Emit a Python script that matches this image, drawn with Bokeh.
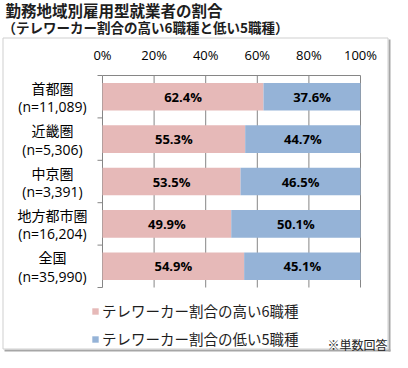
from bokeh.plotting import figure
from bokeh.models import ColumnDataSource, Range1d, Legend, LegendItem
from bokeh.core.properties import value
from bokeh.embed import file_html
from bokeh.resources import INLINE

# ---- data ----
title_line1 = "勤務地域別雇用型就業者の割合"
title_line2 = "（テレワーカー割合の高い6職種と低い5職種）"
regions = ["首都圏", "近畿圏", "中京圏", "地方都市圏", "全国"]
sample_sizes = ["11,089", "5,306", "3,391", "16,204", "35,990"]
high_share = [62.4, 55.3, 53.5, 49.9, 54.9]
low_share = [37.6, 44.7, 46.5, 50.1, 45.1]
series_names = ["テレワーカー割合の高い6職種", "テレワーカー割合の低い5職種"]
x_ticks = [0, 20, 40, 60, 80, 100]
x_tick_labels = ["0%", "20%", "40%", "60%", "80%", "100%"]
note_text = "※単数回答"

# ---- styling / layout constants ----
PINK = "#E6B9B8"
BLUE = "#95B3D7"
GRID = "#868686"
CJK = "'Noto Sans CJK JP'"
LATIN = "'Open Sans'"
W, H = 392, 352
X0_PX, PX_PER_PCT = 102, 2.58      # where 0 % sits, pixels per percent
Y0_PX, ROW_PX = 75, 42.4           # top of the first row, pixels per row


def px_x(px):
    return (px - X0_PX) / PX_PER_PCT


def px_y(px):
    return (px - Y0_PX) / ROW_PX - 0.5


def dy(px):
    return px / ROW_PX


n_rows = len(regions)
rows = list(range(n_rows))
src = ColumnDataSource(dict(
    row=rows,
    name=regions,
    nlab=[f"(n={n})" for n in sample_sizes],
    high=high_share,
    low=low_share,
    high_mid=[h / 2 for h in high_share],
    low_mid=[h + l / 2 for h, l in zip(high_share, low_share)],
    high_txt=[f"{v:.1f}%" for v in high_share],
    low_txt=[f"{v:.1f}%" for v in low_share],
    name_y=[r - dy(9) for r in rows],
    nlab_y=[r + dy(10) for r in rows],
))

p = figure(width=W, height=H, title=None,
           x_range=Range1d(px_x(0), px_x(W)), y_range=Range1d(px_y(H), px_y(0)),
           x_axis_location=None, y_axis_location=None,
           output_backend="svg", toolbar_location=None,
           min_border=0, min_border_left=0, min_border_right=0,
           min_border_top=0, min_border_bottom=0)
p.outline_line_color = None
p.xgrid.visible = False
p.ygrid.visible = False

# frame box with shadow
p.quad(left=[px_x(388)], right=[px_x(390)], top=[px_y(39)], bottom=[px_y(351)],
       fill_color="#a6a6a6", line_color=None)
p.quad(left=[px_x(4)], right=[px_x(390)], top=[px_y(349)], bottom=[px_y(351)],
       fill_color="#a6a6a6", line_color=None)
p.quad(left=[px_x(2.5)], right=[px_x(387.5)], top=[px_y(37.5)], bottom=[px_y(348.5)],
       fill_color=None, line_color="#cfcfcf", line_width=1)

# titles
p.text(x=[px_x(5)], y=[px_y(9)], text=[title_line1], text_font=value(CJK),
       text_font_style="bold", text_font_size="15.5px", text_baseline="middle",
       text_color="#1e1e1e")
p.text(x=[px_x(2)], y=[px_y(26)], text=[title_line2], text_font=value(CJK),
       text_font_style="bold", text_font_size="13.5px", text_baseline="middle",
       text_color="#1e1e1e")

top_edge, bottom_edge = -0.5, n_rows - 0.5

# vertical grid lines (0 % doubles as the left axis line)
p.segment(x0=x_ticks, x1=x_ticks, y0=[top_edge] * len(x_ticks),
          y1=[bottom_edge] * len(x_ticks), line_color=GRID, line_width=1)
# top axis line
p.segment(x0=[0], x1=[100], y0=[top_edge], y1=[top_edge], line_color=GRID, line_width=1)
# left axis ticks on the row boundaries
bounds = [r - 0.5 for r in range(n_rows + 1)]
p.segment(x0=[0] * len(bounds), x1=[px_x(X0_PX - 5)] * len(bounds), y0=bounds, y1=bounds,
          line_color=GRID, line_width=1)
# x tick labels
p.text(x=x_ticks, y=[px_y(54)] * len(x_ticks), text=x_tick_labels, text_font=value(LATIN),
       text_font_size="13px", text_align="center", text_baseline="middle",
       text_color="#000000")

# bars
rs = p.hbar_stack(["high", "low"], y="row", height=0.65, color=[PINK, BLUE],
                  line_color=None, source=src)

# bar labels
for col, txt in (("high_mid", "high_txt"), ("low_mid", "low_txt")):
    p.text(x=col, y="row", text=txt, source=src, text_align="center",
           text_baseline="middle", text_font=value(LATIN), text_font_style="bold",
           text_font_size="13px", text_color="#000000")

# category labels (two lines)
label_x = px_x(52)
p.text(x=label_x, y="name_y", text="name", source=src, text_align="center",
       text_baseline="middle", text_font=value(CJK), text_font_size="14px",
       text_color="#000000")
p.text(x=label_x, y="nlab_y", text="nlab", source=src, text_align="center",
       text_baseline="middle", text_font=value(LATIN), text_font_size="14px",
       text_color="#000000")

# note
p.text(x=[px_x(387)], y=[px_y(344)], text=[note_text], text_font=value(CJK),
       text_font_size="12px", text_align="right", text_baseline="middle",
       text_color="#1e1e1e")

# legend (inside the frame, below the bars)
legend = Legend(items=[LegendItem(label=series_names[0], renderers=[rs[0]]),
                       LegendItem(label=series_names[1], renderers=[rs[1]])],
                location=(91, 3), glyph_width=8, glyph_height=8,
                label_text_font=CJK, label_text_font_size="14.5px", label_standoff=3,
                spacing=7, label_height=20, padding=0, margin=0,
                border_line_color=None, background_fill_alpha=0,
                label_text_color="#1e1e1e")
p.add_layout(legend)

open("out.html", "w").write(file_html(p, INLINE))
